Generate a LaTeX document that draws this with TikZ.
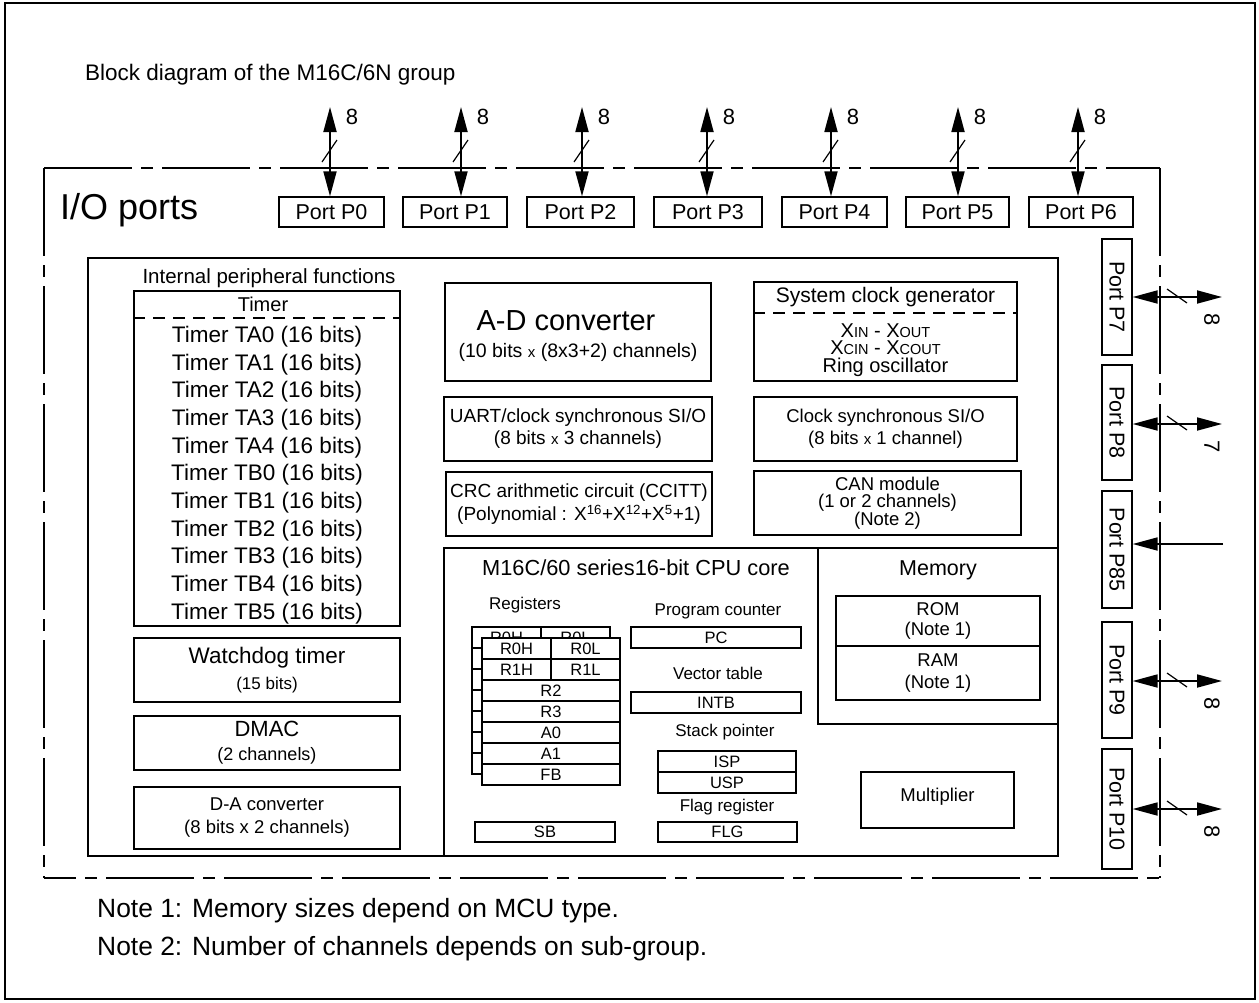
\documentclass[tikz,border=0pt]{standalone}
\usepackage{fontspec}
\setmainfont{Liberation Sans}
\usetikzlibrary{arrows.meta}
\tikzset{
  box/.style={draw, line width=1.3pt, inner sep=0pt, align=center},
  bigbox/.style={draw, line width=1.8pt, inner sep=0pt},
  port/.style={draw, line width=1.3pt, inner sep=0pt, font=\fontsize{21.5}{24}\selectfont},
  bus/.style={line width=1.8pt, {Triangle[length=25pt,width=13pt]}-{Triangle[length=25pt,width=13pt]}},
  busin/.style={line width=1.8pt, -{Triangle[length=25pt,width=13pt]}},
  slash/.style={line width=1.2pt},
  num/.style={font=\fontsize{22}{24}\selectfont, inner sep=0pt},
  frame/.style={line width=1.5pt, dash pattern=on 88pt off 9pt on 12pt off 9pt},
  divider/.style={line width=1.2pt, dash pattern=on 12pt off 8pt},
  lbl/.style={inner sep=0pt, align=center},
  reg/.style={draw, line width=1.2pt, fill=white, inner sep=0pt, minimum height=21pt, font=\fontsize{16.5}{18}\selectfont},
}
\begin{document}
\begin{tikzpicture}[x=1pt,y=-1pt]
\useasboundingbox (0,0) rectangle (1259,1002);
\draw[line width=2pt] (5,3) rectangle (1255,999);

\node[lbl, anchor=west, font=\fontsize{22.5}{26}\selectfont] (title) at (85,75) {Block diagram of the M16C/6N group};

% dash-dot frame
\coordinate (fTL) at (44,168);
\coordinate (fTR) at (1160,168);
\coordinate (fBR) at (1160,878);
\coordinate (fBL) at (44,878);
\draw[frame] (fTL) -- (fTR);
\draw[frame] (fTR) -- (fBR);
\draw[frame, dash phase=56pt] (fBL) -- (fBR);
\draw[frame] (fTL) -- (fBL);

\node[lbl, anchor=west, font=\fontsize{36}{38}\selectfont] (io) at (60,210) {I/O ports};

% top ports
\foreach \i/\cx/\w/\ax in {0/331.5/105/330, 1/455/104/461, 2/580.5/107/582, 3/708/108/707, 4/834.5/105/831, 5/957.5/103/958, 6/1081/104/1078} {
  \node[port, minimum width=\w, minimum height=30] (P\i) at (\cx,212) {Port P\i};
  \coordinate (T\i) at (\ax,107);
  \draw[bus] (T\i) -- (T\i |- P\i.north);
  \draw[slash] ({\ax-8},162) -- ({\ax+7},140);
  \node[num] (N\i) at ({\ax+22},117) {8};
}

% right ports
\foreach \n/\cy/\h/\ay/\lab in {7/297/116/297/8, 8/422.5/115/424/7, 9/680/116/681/8, 10/809/120/809/8} {
  \node[port, rotate=-90, minimum width=\h, minimum height=30] (R\n) at (1117,\cy) {Port P\n};
  \coordinate (RA\n) at (1222,\ay);
  \draw[bus] (RA\n -| R\n.north) -- (RA\n);
  \draw[slash] (1167,{\ay-8}) -- (1187,{\ay+6});
  \node[num, rotate=-90] (RN\n) at (1212,{\ay+23}) {\lab};
}
\node[port, rotate=-90, minimum width=117, minimum height=30] (R85) at (1117,549.5) {Port P85};
\coordinate (RA85) at (1223,544);
\draw[busin] (RA85) -- (RA85 -| R85.north);

% internal peripheral functions
\node[bigbox, minimum width=970, minimum height=598] (periph) at (573,557) {};
\node[lbl, font=\fontsize{20.5}{23}\selectfont] (periphT) at (269,278) {Internal peripheral functions};

% timer
\node[box, minimum width=266, minimum height=335] (timer) at (267,458.5) {};
\node[lbl, font=\fontsize{20}{22}\selectfont] (timerT) at (263,304) {Timer};
\draw[divider] (timer.west |- 0,318) -- (timer.east |- 0,318);
\node[lbl, font=\fontsize{22.5}{27.7}\selectfont] (timerL) at (267,475) {Timer TA0 (16 bits)\\Timer TA1 (16 bits)\\Timer TA2 (16 bits)\\Timer TA3 (16 bits)\\Timer TA4 (16 bits)\\Timer TB0 (16 bits)\\Timer TB1 (16 bits)\\Timer TB2 (16 bits)\\Timer TB3 (16 bits)\\Timer TB4 (16 bits)\\Timer TB5 (16 bits)};

\node[box, minimum width=266, minimum height=64, font=\fontsize{22.5}{26}\selectfont] (wdt) at (267,670) {Watchdog timer\\{\fontsize{17}{19}\selectfont (15 bits)}};
\node[box, minimum width=266, minimum height=54, font=\fontsize{22}{24}\selectfont] (dmac) at (267,743) {DMAC\\{\fontsize{18}{20}\selectfont (2 channels)}};
\node[box, minimum width=266, minimum height=62, font=\fontsize{18.5}{23}\selectfont] (dac) at (267,818) {D-A converter\\(8 bits x 2 channels)};

% middle column
\node[box, minimum width=266, minimum height=98] (adc) at (578,332) {};
\node[lbl, font=\fontsize{29}{30}\selectfont] (adcT) at (566,321) {A-D converter};
\node[lbl, font=\fontsize{19.5}{21}\selectfont] (adcL) at (578,352) {(10 bits {\fontsize{15}{17}\selectfont x} (8x3+2) channels)};
\node[box, minimum width=268, minimum height=64, font=\fontsize{19}{22}\selectfont] (uart) at (578,429) {UART/clock synchronous SI/O\\(8 bits {\fontsize{15}{17}\selectfont x} 3 channels)};
\node[box, minimum width=266, minimum height=64, font=\fontsize{19}{23}\selectfont] (crc) at (579,504) {CRC arithmetic circuit (CCITT)\\(Polynomial : X\textsuperscript{16}+X\textsuperscript{12}+X\textsuperscript{5}+1)};

% right column
\node[box, minimum width=263, minimum height=99] (clk) at (885.5,331.5) {};
\node[lbl, font=\fontsize{21}{23}\selectfont] (clkT) at (885.5,297) {System clock generator};
\draw[divider] (clk.west |- 0,313) -- (clk.east |- 0,313);
\node[lbl, font=\fontsize{20}{17.5}\selectfont] (clkL) at (885.5,350) {X{\fontsize{14.5}{15}\selectfont IN} - X{\fontsize{14.5}{15}\selectfont OUT}\\X{\fontsize{14.5}{15}\selectfont CIN} - X{\fontsize{14.5}{15}\selectfont COUT}\\Ring oscillator};
\node[box, minimum width=263, minimum height=64, font=\fontsize{18.5}{22}\selectfont] (csio) at (885.5,429) {Clock synchronous SI/O\\(8 bits {\fontsize{15}{17}\selectfont x} 1 channel)};
\node[box, minimum width=267, minimum height=64, font=\fontsize{18.5}{17.5}\selectfont] (can) at (887.5,503) {CAN module\\(1 or 2 channels)\\(Note 2)};

% CPU core
\node[bigbox, minimum width=614, minimum height=308] (cpu) at (751,702) {};
\node[lbl, font=\fontsize{21.8}{24}\selectfont] (cpuT) at (636,568) {M16C/60 series16-bit CPU core};
\node[bigbox, minimum width=240, minimum height=176] (mem) at (938,636) {};
\node[lbl, font=\fontsize{21.5}{24}\selectfont] (memT) at (938,570) {Memory};
\node[box, minimum width=204, minimum height=50, font=\fontsize{18.5}{20}\selectfont] (rom) at (938,621) {ROM\\(Note 1)};
\node[box, minimum width=204, minimum height=54, font=\fontsize{18.5}{22}\selectfont] (ram) at (938,673) {RAM\\(Note 1)};
\node[box, minimum width=153, minimum height=56] (mul) at (937.5,800) {};
\node[lbl, font=\fontsize{18.5}{20}\selectfont] (mulL) at (937.5,797) {Multiplier};

% registers
\node[lbl, font=\fontsize{17}{19}\selectfont] (regT) at (525,605) {Registers};
\node[reg, minimum width=69] (bR0H) at (506.5,637.5) {R0H};
\node[reg, minimum width=69] (bR0L) at (575.5,637.5) {R0L};
\foreach \k/\y in {1/658.5, 2/679.5, 3/700.5, 4/721.5, 5/742.5, 6/763.5} {
  \node[reg, minimum width=138] (bRow\k) at (541,\y) {};
}
\draw[line width=1.2pt] (bR0H.north west) -- (bRow6.south west);
\node[reg, minimum width=69] (fR0H) at (516.5,648.5) {R0H};
\node[reg, minimum width=69] (fR0L) at (585.5,648.5) {R0L};
\node[reg, minimum width=69] (fR1H) at (516.5,669.5) {R1H};
\node[reg, minimum width=69] (fR1L) at (585.5,669.5) {R1L};
\node[reg, minimum width=138] (fR2) at (551,690.5) {R2};
\node[reg, minimum width=138] (fR3) at (551,711.5) {R3};
\node[reg, minimum width=138] (fA0) at (551,732.5) {A0};
\node[reg, minimum width=138] (fA1) at (551,753.5) {A1};
\node[reg, minimum width=138] (fFB) at (551,774.5) {FB};

\node[lbl, font=\fontsize{17}{19}\selectfont] (pcT) at (718,611) {Program counter};
\node[reg, minimum width=170] (pc) at (716,637.5) {PC};
\node[lbl, font=\fontsize{17}{19}\selectfont] (vtT) at (718,673) {Vector table};
\node[reg, minimum width=170] (intb) at (716,702.5) {INTB};
\node[lbl, font=\fontsize{17}{19}\selectfont] (spT) at (725,732) {Stack pointer};
\node[reg, minimum width=138] (isp) at (727,761.5) {ISP};
\node[reg, minimum width=138] (usp) at (727,782.5) {USP};
\node[lbl, font=\fontsize{17}{19}\selectfont] (frT) at (727,807) {Flag register};
\node[reg, minimum width=139, minimum height=20] (flg) at (727.5,832) {FLG};
\node[reg, minimum width=140, minimum height=20] (sb) at (545,832) {SB};

% notes
\node[lbl, anchor=west, font=\fontsize{26.4}{28}\selectfont] (n1) at (97,911) {Note 1: Memory sizes depend on MCU type.};
\node[lbl, anchor=west, font=\fontsize{26.4}{28}\selectfont] (n2) at (97,949) {Note 2: Number of channels depends on sub-group.};
\end{tikzpicture}
\end{document}
